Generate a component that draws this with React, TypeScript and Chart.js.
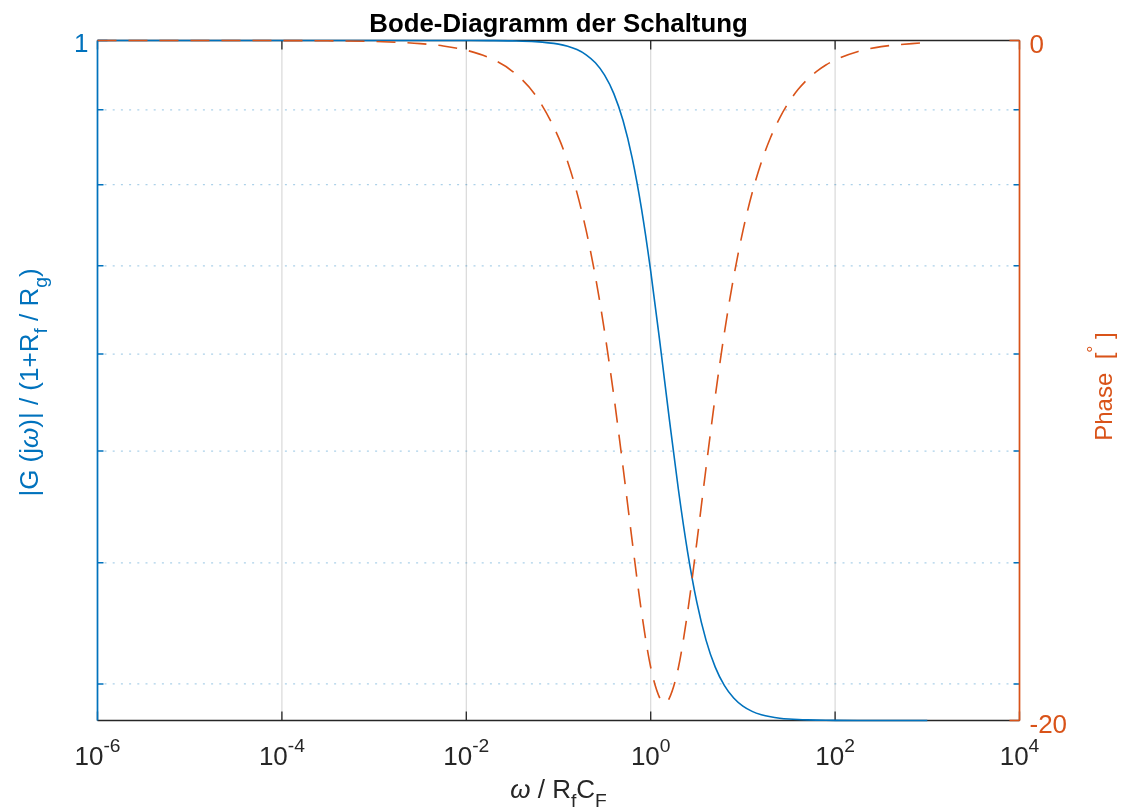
import React, { useEffect, useRef } from 'react';
import { Chart, registerables } from 'chart.js';

Chart.register(...registerables);

// angular frequency (omega / RfCF)
const omega = [
  1e-6, 1e-5, 1e-4, 3.162e-4, 1e-3, 3.162e-3, 5.623e-3, 1e-2, 1.778e-2, 3.162e-2,
  5.623e-2, 0.1, 0.1259, 0.1585, 0.1995, 0.2512, 0.3162, 0.3981, 0.5012, 0.631,
  0.7943, 1, 1.2589, 1.4125, 1.5849, 1.9953, 2.5119, 3.1623, 3.9811, 5.0119,
  6.3096, 7.9433, 10, 12.589, 15.849, 19.953, 25.119, 31.623, 39.811, 50.119,
  63.096, 79.433, 100, 177.83, 316.23, 1000,
];

// |G(jw)| / (1 + Rf/Rg)
const magnitude = [
  1.0, 1.0, 1.0, 1.0, 1.0, 0.999996, 0.999988, 0.999963, 0.999881, 0.999625,
  0.998817, 0.99628, 0.994132, 0.990769, 0.985538, 0.97749, 0.965307, 0.947309, 0.921645, 0.886814,
  0.842528, 0.790569, 0.734947, 0.707386, 0.680853, 0.632906, 0.593804, 0.564076, 0.542691, 0.527934,
  0.518052, 0.511566, 0.507371, 0.50468, 0.502965, 0.501876, 0.501186, 0.500749, 0.500473, 0.500298,
  0.500188, 0.500119, 0.500075, 0.500024, 0.500007, 0.500001,
];

// phase in degrees
const phase = [
  -0.00003, -0.0003, -0.0029, -0.0091, -0.0286, -0.0906, -0.1611, -0.2865, -0.5093, -0.9054,
  -1.608, -2.8482, -3.5736, -4.4749, -5.5867, -6.9418, -8.5651, -10.4501, -12.5512, -14.7392,
  -16.8003, -18.4349, -19.3494, -19.4712, -19.3543, -18.4485, -16.82, -14.7616, -12.5736, -10.4708,
  -8.5833, -6.9571, -5.5993, -4.4853, -3.5819, -2.8549, -2.2726, -1.8076, -1.4371, -1.1421,
  -0.9076, -0.721, -0.5728, -0.3222, -0.1812, -0.0573,
];

const xTickValues = [1e-6, 1e-4, 1e-2, 1, 1e2, 1e4];
const xTickExponents = ['-6', '-4', '-2', '0', '2', '4'];
const magMajorTicks = [1];
const magMajorLabels = ['1'];
const magMinorTicks = [0.9318, 0.8633, 0.7948, 0.7264, 0.658, 0.5872, 0.519];
const phaseTicks = [0, -20];
const phaseTickLabels = ['0', '-20'];

const titleText = 'Bode-Diagramm der Schaltung';

const BLUE = '#0072BD';
const ORANGE = '#D95319';
const AXIS = '#262626';
const FONT = '"Liberation Sans", Arial, Helvetica, sans-serif';

type Part = { t: string; s?: 'sub' | 'sup'; it?: boolean };

function fnt(size: number, bold = false, italic = false) {
  return `${italic ? 'italic ' : ''}${bold ? 'bold ' : ''}${size}px ${FONT}`;
}

function drawRich(
  ctx: CanvasRenderingContext2D,
  parts: Part[],
  x: number,
  y: number,
  align: 'left' | 'center' | 'right',
  size: number,
  color: string,
  bold = false,
) {
  const sz = (p: Part) => (p.s ? size * 0.74 : size);
  const widths = parts.map((p) => {
    ctx.font = fnt(sz(p), bold, p.it);
    return ctx.measureText(p.t).width;
  });
  const total = widths.reduce((a, b) => a + b, 0);
  let cx = align === 'center' ? x - total / 2 : align === 'right' ? x - total : x;
  ctx.fillStyle = color;
  ctx.textAlign = 'left';
  ctx.textBaseline = 'alphabetic';
  parts.forEach((p, i) => {
    ctx.font = fnt(sz(p), bold, p.it);
    const dy = p.s === 'sup' ? -size * 0.5 : p.s === 'sub' ? size * 0.36 : 0;
    ctx.fillText(p.t, cx, y + dy);
    cx += widths[i];
  });
}

const decorPlugin = {
  id: 'matlabDecor',
  beforeDatasetsDraw(chart: any) {
    const ctx: CanvasRenderingContext2D = chart.ctx;
    const { left, right, top, bottom } = chart.chartArea;
    const xs = chart.scales.x;
    const ym = chart.scales.yMag;
    const yp = chart.scales.yPhase;
    ctx.save();
    // vertical major grid
    ctx.strokeStyle = '#d9d9d9';
    ctx.lineWidth = 1.2;
    xTickValues.forEach((v) => {
      const px = xs.getPixelForValue(v);
      ctx.beginPath();
      ctx.moveTo(px, top);
      ctx.lineTo(px, bottom);
      ctx.stroke();
    });
    // dotted minor grid (left axis)
    ctx.strokeStyle = 'rgba(0,114,189,0.33)';
    ctx.lineWidth = 1.3;
    ctx.setLineDash([2, 6.2]);
    magMinorTicks.forEach((v) => {
      const py = ym.getPixelForValue(v);
      ctx.beginPath();
      ctx.moveTo(left + 7, py);
      ctx.lineTo(right, py);
      ctx.stroke();
    });
    ctx.setLineDash([]);
    // box
    ctx.lineWidth = 1.4;
    ctx.strokeStyle = AXIS;
    ctx.beginPath();
    ctx.moveTo(left, top);
    ctx.lineTo(right, top);
    ctx.moveTo(left, bottom);
    ctx.lineTo(right, bottom);
    ctx.stroke();
    // x ticks (inward, top and bottom)
    ctx.lineWidth = 1.3;
    xTickValues.forEach((v) => {
      const px = xs.getPixelForValue(v);
      ctx.beginPath();
      ctx.moveTo(px, bottom);
      ctx.lineTo(px, bottom - 9);
      ctx.moveTo(px, top);
      ctx.lineTo(px, top + 9);
      ctx.stroke();
    });
    // left axis
    ctx.strokeStyle = BLUE;
    ctx.lineWidth = 1.7;
    ctx.beginPath();
    ctx.moveTo(left, top);
    ctx.lineTo(left, bottom);
    ctx.stroke();
    ctx.lineWidth = 1.5;
    magMinorTicks.forEach((v) => {
      const py = ym.getPixelForValue(v);
      ctx.beginPath();
      ctx.moveTo(left, py);
      ctx.lineTo(left + 6, py);
      ctx.moveTo(right, py);
      ctx.lineTo(right - 6, py);
      ctx.stroke();
    });
    magMajorTicks.forEach((v) => {
      const py = ym.getPixelForValue(v);
      ctx.beginPath();
      ctx.moveTo(left, py);
      ctx.lineTo(left + 10, py);
      ctx.stroke();
    });
    // right axis
    ctx.strokeStyle = ORANGE;
    ctx.lineWidth = 1.7;
    ctx.beginPath();
    ctx.moveTo(right, top);
    ctx.lineTo(right, bottom);
    ctx.stroke();
    ctx.lineWidth = 1.5;
    phaseTicks.forEach((v) => {
      const py = yp.getPixelForValue(v);
      ctx.beginPath();
      ctx.moveTo(right, py);
      ctx.lineTo(right - 10, py);
      ctx.stroke();
    });
    ctx.restore();
  },
  afterDraw(chart: any) {
    const ctx: CanvasRenderingContext2D = chart.ctx;
    const { left, right, top, bottom } = chart.chartArea;
    const xs = chart.scales.x;
    const ym = chart.scales.yMag;
    const yp = chart.scales.yPhase;
    const size = 26;
    ctx.save();
    // title
    drawRich(ctx, [{ t: titleText }], (left + right) / 2, 31.5, 'center', 25.8, '#000', true);
    // x tick labels
    xTickValues.forEach((v, i) => {
      const px = xs.getPixelForValue(v);
      drawRich(ctx, [{ t: '10' }, { t: xTickExponents[i], s: 'sup' }], px, 765, 'center', size, AXIS);
    });
    // left tick labels
    magMajorTicks.forEach((v, i) => {
      const py = ym.getPixelForValue(v);
      drawRich(ctx, [{ t: magMajorLabels[i] }], left - 9, py + 11.5, 'right', size, BLUE);
    });
    // right tick labels
    phaseTicks.forEach((v, i) => {
      const py = yp.getPixelForValue(v);
      drawRich(ctx, [{ t: phaseTickLabels[i] }], right + 10, py + 12, 'left', size, ORANGE);
    });
    // x label
    drawRich(
      ctx,
      [{ t: 'ω', it: true }, { t: ' / R' }, { t: 'f', s: 'sub' }, { t: 'C' }, { t: 'F', s: 'sub' }],
      (left + right) / 2,
      798,
      'center',
      size,
      AXIS,
    );
    // left y label
    ctx.save();
    ctx.translate(38, (top + bottom) / 2 + 2);
    ctx.rotate(-Math.PI / 2);
    drawRich(
      ctx,
      [
        { t: '|G (j' },
        { t: 'ω', it: true },
        { t: ')| / (1+R' },
        { t: 'f', s: 'sub' },
        { t: ' / R' },
        { t: 'g', s: 'sub' },
        { t: ')' },
      ],
      0,
      0,
      'center',
      size,
      BLUE,
    );
    ctx.restore();
    // right y label
    ctx.save();
    ctx.translate(1112, (top + bottom) / 2 + 6);
    ctx.rotate(-Math.PI / 2);
    drawRich(ctx, [{ t: 'Phase  [' }, { t: '°', s: 'sup' }, { t: ' ]' }], 0, 0, 'center', 24, ORANGE);
    ctx.restore();
    ctx.restore();
  },
};

export default function App() {
  const ref = useRef<HTMLCanvasElement>(null);
  useEffect(() => {
    if (!ref.current) return;
    const chart = new Chart(ref.current, {
      type: 'line',
      data: {
        datasets: [
          {
            label: 'Phase',
            data: omega.map((w, i) => ({ x: w, y: phase[i] })),
            yAxisID: 'yPhase',
            borderColor: ORANGE,
            borderWidth: 1.6,
            borderDash: [19, 12],
            pointRadius: 0,
            fill: false,
            cubicInterpolationMode: 'monotone',
            clip: false,
          },
          {
            label: 'Betrag',
            data: omega.map((w, i) => ({ x: w, y: magnitude[i] })),
            yAxisID: 'yMag',
            borderColor: BLUE,
            borderWidth: 1.6,
            pointRadius: 0,
            fill: false,
            cubicInterpolationMode: 'monotone',
            clip: false,
          },
        ],
      },
      options: {
        responsive: false,
        animation: false,
        events: [],
        layout: { padding: { left: 97.5, right: 102.5, top: 40.5, bottom: 87.5 } },
        plugins: { legend: { display: false }, tooltip: { enabled: false }, title: { display: false } },
        scales: {
          x: { type: 'logarithmic', min: 1e-6, max: 1e4, display: false },
          yMag: { type: 'logarithmic', position: 'left', min: 0.5, max: 1, display: false },
          yPhase: { type: 'linear', position: 'right', min: -20, max: 0, display: false },
        },
      } as any,
      plugins: [decorPlugin],
    });
    return () => chart.destroy();
  }, []);
  return (
    <div style={{ position: 'fixed', left: 0, top: 0, width: 1122, height: 808, background: '#fff' }}>
      <canvas ref={ref} width={1122} height={808} style={{ display: 'block' }} />
    </div>
  );
}
